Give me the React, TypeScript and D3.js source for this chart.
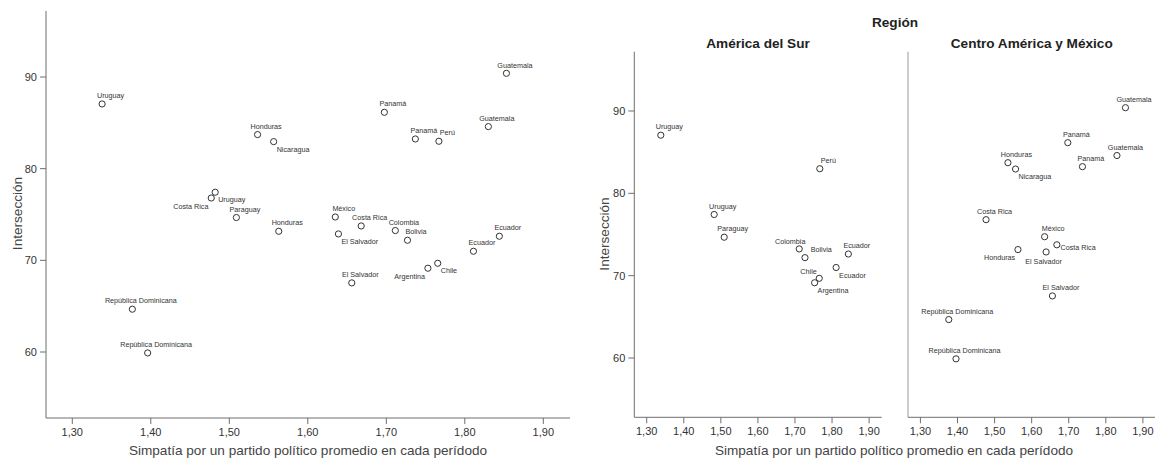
import React from "react";
import * as d3 from "d3";

// ---- Data ----
const countries = [
  "Uruguay", "Uruguay", "Paraguay", "Perú", "Colombia", "Bolivia", "Ecuador", "Ecuador", "Chile", "Argentina",
  "Guatemala", "Guatemala", "Panamá", "Panamá", "Honduras", "Honduras", "Nicaragua", "Costa Rica", "Costa Rica",
  "México", "El Salvador", "El Salvador", "República Dominicana", "República Dominicana",
];
const sympathy = [
  1.338, 1.482, 1.509, 1.767, 1.7115, 1.727, 1.844, 1.811, 1.7655, 1.753,
  1.853, 1.830, 1.6975, 1.737, 1.536, 1.563, 1.5565, 1.477, 1.668,
  1.635, 1.639, 1.656, 1.3765, 1.396,
];
const intersection = [
  87.06, 77.43, 74.67, 82.99, 73.25, 72.19, 72.63, 70.99, 69.68, 69.14,
  90.40, 84.59, 86.15, 83.24, 83.72, 73.17, 82.95, 76.8, 73.75,
  74.73, 72.88, 67.54, 64.67, 59.90,
];
const SUR = "América del Sur";
const CAM = "Centro América y México";
const region = [
  SUR, SUR, SUR, SUR, SUR, SUR, SUR, SUR, SUR, SUR,
  CAM, CAM, CAM, CAM, CAM, CAM, CAM, CAM, CAM,
  CAM, CAM, CAM, CAM, CAM,
];
const regions = [SUR, CAM];
// label placement codes (left chart, faceted chart)
const placeAll = [
  "n", "se", "n", "n", "n", "n", "n", "n", "se", "sw",
  "n", "n", "n", "n", "n", "n", "se", "sw", "n",
  "n", "se", "n", "n", "n",
];
const placeFacet = [
  "n", "n", "n", "n", "nl", "ne", "n", "se", "nw", "se",
  "n", "n", "n", "n", "n", "sw", "se", "n", "e",
  "n", "s", "n", "n", "n",
];
const xTicks = [1.3, 1.4, 1.5, 1.6, 1.7, 1.8, 1.9];
const yTicks = [60, 70, 80, 90];
const xTitle = "Simpatía por un partido político promedio en cada perídodo";
const yTitle = "Intersección";
const facetTitle = "Región";

// ---- Style ----
const FONT = "'Liberation Sans', Arial, sans-serif";
const AXIS = "#6e6e6e";
const TEXT = "#333";
const X_DOMAIN: [number, number] = [1.2665, 1.934];
const Y_DOMAIN: [number, number] = [52.8, 97.2];

const PLACE: Record<string, { a: string; dx: number; dy: number }> = {
  n: { a: "middle", dx: 8.5, dy: -8.3 },
  se: { a: "start", dx: 3, dy: 7.6 },
  sw: { a: "end", dx: -2.8, dy: 8 },
  nw: { a: "end", dx: -2.5, dy: -6.8 },
  nl: { a: "middle", dx: -9, dy: -7.6 },
  ne: { a: "start", dx: 5.7, dy: -8 },
  e: { a: "start", dx: 3.7, dy: 2.7 },
  s: { a: "middle", dx: -2.5, dy: 9.4 },
};

const fmt = (v: number) => v.toFixed(2).replace(".", ",");

function Panel({ x0, x1, y0, y1, idx, places, yAxisTicks, title, axisColor }: any) {
  const x = d3.scaleLinear().domain(X_DOMAIN).range([x0, x1]);
  const y = d3.scaleLinear().domain(Y_DOMAIN).range([y1, y0]);
  return (
    <g>
      <line x1={x0} x2={x0} y1={y0} y2={y1} stroke={axisColor || AXIS} strokeWidth={1} />
      <line x1={x0} x2={x1} y1={y1} y2={y1} stroke={AXIS} strokeWidth={1} />
      {yAxisTicks &&
        yTicks.map((t) => (
          <g key={"y" + t}>
            <line x1={x0 - 6} x2={x0} y1={y(t)} y2={y(t)} stroke={AXIS} />
            <text x={x0 - 9} y={y(t) + 4} textAnchor="end" fontSize={11} fill={TEXT}>
              {t}
            </text>
          </g>
        ))}
      {xTicks.map((t) => (
        <g key={"x" + t}>
          <line x1={x(t)} x2={x(t)} y1={y1} y2={y1 + 6} stroke={AXIS} />
          <text x={x(t)} y={y1 + 18} textAnchor="middle" fontSize={11} fill={TEXT}>
            {fmt(t)}
          </text>
        </g>
      ))}
      {idx.map((i: number) => (
        <circle key={"c" + i} cx={x(sympathy[i])} cy={y(intersection[i])} r={3.1} fill="none" stroke="#333" strokeWidth={1} />
      ))}
      {idx.map((i: number) => {
        const p = PLACE[places[i]];
        return (
          <text
            key={"l" + i}
            x={x(sympathy[i]) + p.dx}
            y={y(intersection[i]) + p.dy + 2.5}
            textAnchor={p.a}
            fontSize={7.2}
            fill={TEXT}
          >
            {countries[i]}
          </text>
        );
      })}
      {title && (
        <text x={(x0 + x1) / 2} y={48} textAnchor="middle" fontSize={13.6} fontWeight="bold" fill="#222">
          {title}
        </text>
      )}
    </g>
  );
}

export default function App() {
  const all = countries.map((_, i) => i);
  const byRegion = regions.map((r) => all.filter((i) => region[i] === r));
  return (
    <svg
      width={1155}
      height={459}
      style={{ position: "absolute", left: 0, top: 0, background: "#fff" }}
      fontFamily={FONT}
    >
      <rect x={0} y={0} width={1155} height={459} fill="#fff" />
      <Panel x0={46} x1={570} y0={11} y1={418} idx={all} places={placeAll} yAxisTicks={true} />
      <text x={308} y={455} textAnchor="middle" fontSize={13.6} fill="#444">
        {xTitle}
      </text>
      <text transform="translate(21.5,213.5) rotate(-90)" textAnchor="middle" fontSize={13.6} fill="#444">
        {yTitle}
      </text>

      <Panel x0={634.3} x1={881.7} y0={51.7} y1={417.3} idx={byRegion[0]} places={placeFacet} yAxisTicks={true} title={regions[0]} />
      <Panel x0={908} x1={1155.5} y0={51.7} y1={417.3} idx={byRegion[1]} places={placeFacet} yAxisTicks={false} title={regions[1]} axisColor="#9a9a9a" />
      <text x={895} y={27} textAnchor="middle" fontSize={13.6} fontWeight="bold" fill="#222">
        {facetTitle}
      </text>
      <text x={894} y={455} textAnchor="middle" fontSize={13.6} fill="#444">
        {xTitle}
      </text>
      <text transform="translate(609,234) rotate(-90)" textAnchor="middle" fontSize={13.6} fill="#444">
        {yTitle}
      </text>
    </svg>
  );
}
